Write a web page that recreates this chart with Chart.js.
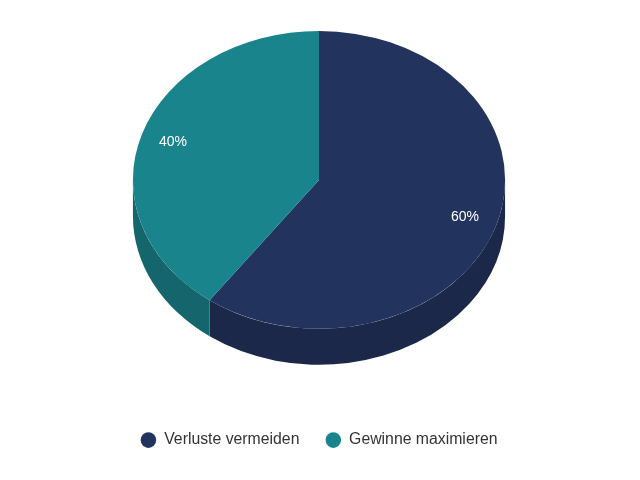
<!DOCTYPE html>
<html lang="de">
<head>
<meta charset="UTF-8">
<title>Verluste vermeiden / Gewinne maximieren</title>
<script src="https://cdn.jsdelivr.net/npm/chart.js@4.4.1/dist/chart.umd.min.js"></script>
<style>
  html, body { margin: 0; padding: 0; background: #fff; }
  #wrap { width: 640px; height: 480px; }
</style>
</head>
<body>
<div id="wrap"><canvas id="pie3d"></canvas></div>
<script>
// data
const labels = ['Verluste vermeiden', 'Gewinne maximieren'];
const shares = [60, 40];

// look
const topColors = ['#22335e', '#19848c'];
const sideColors = ['#1b284a', '#15666c'];
const TILT = 0.8;     // vertical squash of the disc
const DEPTH = 36;     // wall height in px
const FONT = '"Liberation Sans", Arial, sans-serif';

// squashes the pie into an ellipse and paints the front wall under it
const tiltPlugin = {
    id: 'tilt',
    beforeDatasetsDraw(chart) {
        const ctx = chart.ctx;
        const arcs = chart.getDatasetMeta(0).data;
        const cx = arcs[0].x, r = arcs[0].outerRadius;
        const top = arcs[0].y - r;
        const cy = top + r * TILT;

        arcs.forEach((arc, i) => {
            const s = Math.max(arc.startAngle, 0);
            const e = Math.min(arc.endAngle, Math.PI);
            if (e <= s) return;
            ctx.beginPath();
            ctx.ellipse(cx, cy, r, r * TILT, 0, s, e);
            ctx.ellipse(cx, cy + DEPTH, r, r * TILT, 0, e, s, true);
            ctx.closePath();
            ctx.fillStyle = sideColors[i];
            ctx.fill();
        });

        ctx.save();
        ctx.translate(0, top);
        ctx.scale(1, TILT);
        ctx.translate(0, -top);
    },
    afterDatasetsDraw(chart) {
        const ctx = chart.ctx;
        ctx.restore();

        const arcs = chart.getDatasetMeta(0).data;
        const total = shares.reduce((a, b) => a + b, 0);
        ctx.save();
        ctx.fillStyle = '#ffffff';
        ctx.font = '14px ' + FONT;
        ctx.textAlign = 'center';
        ctx.textBaseline = 'middle';
        arcs.forEach((arc, i) => {
            const r = arc.outerRadius;
            const top = arc.y - r;
            const cy = top + r * TILT;
            const mid = (arc.startAngle + arc.endAngle) / 2;
            const x = arc.x + Math.cos(mid) * r * 0.825;
            const y = cy + Math.sin(mid) * r * TILT * 0.81;
            ctx.fillText(Math.round(shares[i] / total * 100) + '%', x, y);
        });
        ctx.restore();
    }
};

new Chart(document.getElementById('pie3d'), {
    type: 'pie',
    data: {
        labels: labels,
        datasets: [{
            data: shares,
            backgroundColor: topColors,
            borderWidth: 0,
            radius: '98.4%'
        }]
    },
    options: {
        responsive: true,
        maintainAspectRatio: false,
        animation: false,
        layout: { padding: { top: 28, bottom: 22, right: 2 } },
        plugins: {
            tooltip: { enabled: false },
            legend: {
                position: 'bottom',
                labels: {
                    usePointStyle: true,
                    pointStyle: 'circle',
                    boxWidth: 16,
                    boxHeight: 11,
                    padding: 26,
                    color: '#333333',
                    font: { size: 15.8, family: FONT }
                }
            }
        }
    },
    plugins: [tiltPlugin]
});
</script>
</body>
</html>
